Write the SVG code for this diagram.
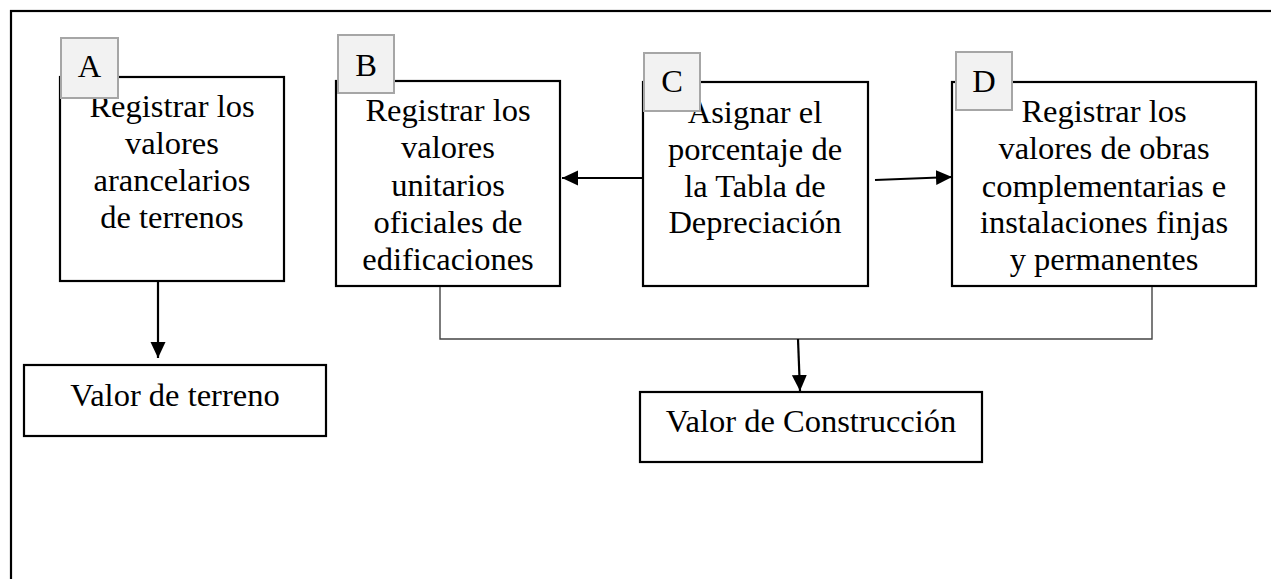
<svg xmlns="http://www.w3.org/2000/svg" width="1271" height="579" viewBox="0 0 1271 579">
<style>
.box{fill:#fff;stroke:#000;stroke-width:2.2}
.lbl{fill:#f2f2f2;stroke:#a6a6a6;stroke-width:2}
.t{font-family:"Liberation Serif","Times New Roman",serif;font-size:32.5px;fill:#000;text-anchor:middle}
.arr{stroke:#000;stroke-width:2.2;fill:none}
.thin{stroke:#444;stroke-width:1.4;fill:none}
</style>
<defs>
<marker id="ah" markerUnits="userSpaceOnUse" markerWidth="18" markerHeight="18" refX="16" refY="7.5" orient="auto">
<path d="M0,0 L16,7.5 L0,15 Z" fill="#000"/>
</marker>
</defs>
<rect x="11" y="11" width="1300" height="700" fill="#fff" stroke="#000" stroke-width="2.2"/>
<g id="nodeA">
<rect class="box" x="60" y="77" width="224" height="204"/>
<text class="t" x="172" y="117">Registrar los</text>
<text class="t" x="172" y="154">valores</text>
<text class="t" x="172" y="191">arancelarios</text>
<text class="t" x="172" y="228">de terrenos</text>
<rect class="lbl" x="61" y="38" width="57" height="60"/>
<text class="t" x="89.5" y="77">A</text>
</g>
<g id="nodeB">
<rect class="box" x="336" y="81" width="224" height="205"/>
<text class="t" x="448" y="121">Registrar los</text>
<text class="t" x="448" y="158">valores</text>
<text class="t" x="448" y="195.5">unitarios</text>
<text class="t" x="448" y="233">oficiales de</text>
<text class="t" x="448" y="270">edificaciones</text>
<rect class="lbl" x="338" y="35" width="56" height="58"/>
<text class="t" x="366" y="76">B</text>
</g>
<g id="nodeC">
<rect class="box" x="643" y="82" width="225" height="204"/>
<text class="t" x="755" y="123">Asignar el</text>
<text class="t" x="755" y="160">porcentaje de</text>
<text class="t" x="755" y="196.5">la Tabla de</text>
<text class="t" x="755" y="233">Depreciación</text>
<rect class="lbl" x="644" y="53" width="56" height="58"/>
<text class="t" x="672" y="92">C</text>
</g>
<g id="nodeD">
<rect class="box" x="952" y="82" width="304" height="204"/>
<text class="t" x="1104" y="122">Registrar los</text>
<text class="t" x="1104" y="159">valores de obras</text>
<text class="t" x="1104" y="196.5">complementarias e</text>
<text class="t" x="1104" y="233">instalaciones finjas</text>
<text class="t" x="1104" y="270">y permanentes</text>
<rect class="lbl" x="956" y="52" width="56" height="58"/>
<text class="t" x="984" y="92">D</text>
</g>
<g id="nodeTerreno">
<rect class="box" x="24" y="365" width="302" height="71"/>
<text class="t" x="175" y="406">Valor de terreno</text>
</g>
<g id="nodeConstruccion">
<rect class="box" x="640" y="392" width="342" height="70"/>
<text class="t" x="811" y="432">Valor de Construcción</text>
</g>
<g id="connectors">
<line class="arr" x1="158" y1="282" x2="158" y2="358" marker-end="url(#ah)"/>
<line class="arr" x1="642" y1="178" x2="562" y2="178" marker-end="url(#ah)"/>
<line class="arr" x1="875" y1="180" x2="952" y2="177" marker-end="url(#ah)"/>
<polyline class="thin" points="440,287 440,339 1152,339 1152,287"/>
<line class="arr" x1="798" y1="339" x2="800" y2="391" marker-end="url(#ah)"/>
</g>
</svg>
